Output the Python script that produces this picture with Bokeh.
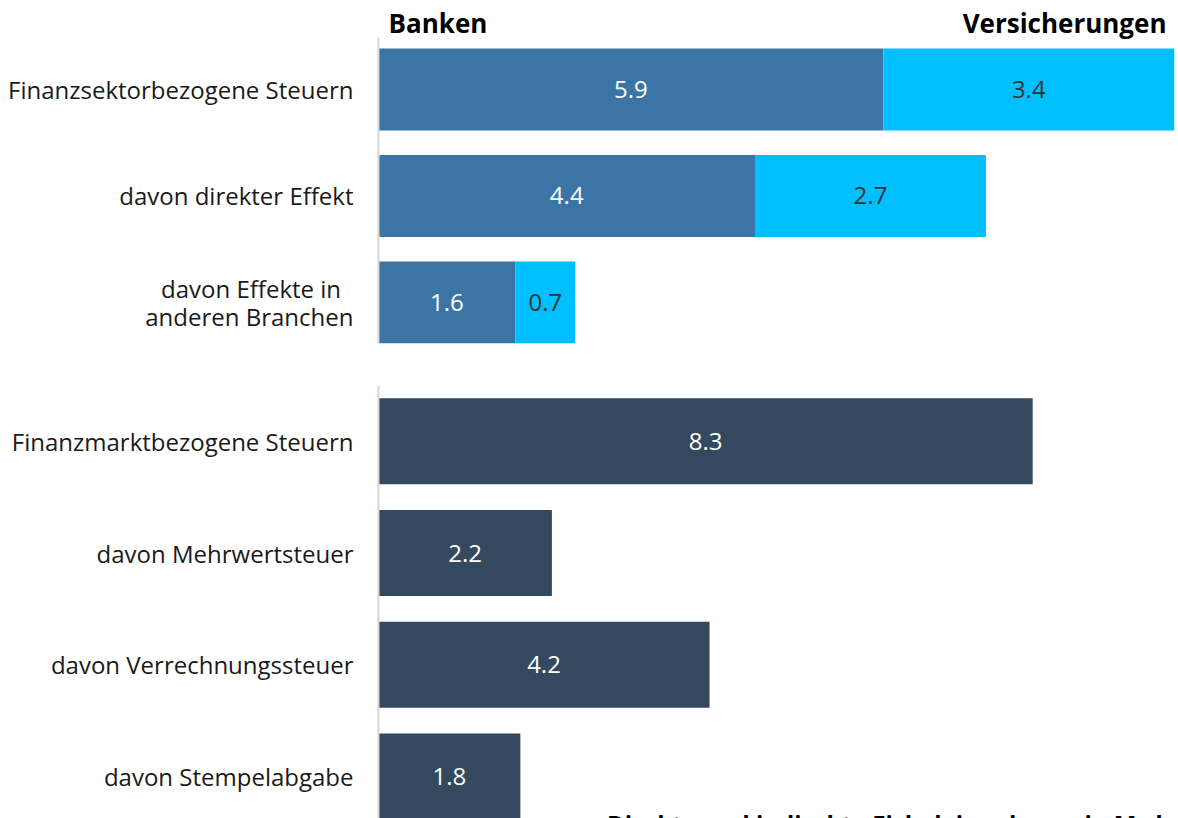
from bokeh.plotting import figure
from bokeh.models import ColumnDataSource, Range1d, FixedTicker
from bokeh.layouts import column
from bokeh.embed import file_html
from bokeh.resources import INLINE
from bokeh.core.properties import value

# ---------------- data ----------------
sector_categories = ["Finanzsektorbezogene Steuern", "davon direkter Effekt",
                     "davon Effekte in  \nanderen Branchen"]
banken = [5.9, 4.4, 1.6]
versicherungen = [3.4, 2.7, 0.7]
series_names = ["Banken", "Versicherungen"]

market_categories = ["Finanzmarktbezogene Steuern", "davon Mehrwertsteuer",
                     "davon Verrechnungssteuer", "davon Stempelabgabe"]
markt = [8.3, 2.2, 4.2, 1.8]

footer_note = "Direkte und indirekte Fiskaleinnahmen in Mrd. CHF"

# ---------------- style ----------------
FONT = "Open Sans"
C_BANK = "#3a75a6"
C_VERS = "#00bfff"
C_MARKT = "#34495e"
BAR_H = 0.77
W = 1178
LEFT = 378


def style_axes(p, ticks, labels, bounds):
    p.xgrid.visible = False
    p.ygrid.visible = False
    p.outline_line_color = None
    ax = p.yaxis[0]
    ax.ticker = FixedTicker(ticks=ticks)
    ax.major_label_overrides = {t: l for t, l in zip(ticks, labels)}
    ax.major_tick_line_color = None
    ax.minor_tick_line_color = None
    ax.axis_line_color = "#d6d6d6"
    ax.axis_line_width = 2
    ax.bounds = bounds
    ax.major_label_text_font = FONT
    ax.major_label_text_font_size = "24px"
    ax.major_label_text_color = "#1a1a1a"
    ax.major_label_text_line_height = 0.87
    ax.major_label_standoff = 19


# ---------------- top chart ----------------
n_top = len(sector_categories)
y_top = [n_top - 1 - i for i in range(n_top)]
totals = [b + v for b, v in zip(banken, versicherungen)]
src_top = ColumnDataSource(dict(
    y=y_top, b=banken, v=versicherungen, total=totals,
    b_mid=[b / 2 for b in banken],
    v_mid=[b + v / 2 for b, v in zip(banken, versicherungen)],
    b_lbl=[f"{b:.1f}" for b in banken],
    v_lbl=[f"{v:.1f}" for v in versicherungen],
))

top_x_end = 9.35
top_axis_end = n_top - 1 + 0.49
p1 = figure(width=W, height=364, x_range=Range1d(0, top_x_end),
            y_range=Range1d(-BAR_H / 2, -BAR_H / 2 + 343 / 106.5),
            output_backend="svg", toolbar_location=None, x_axis_location=None,
            min_border_left=LEFT, min_border_right=0, min_border_top=0,
            min_border_bottom=21)
p1.hbar(y="y", left=0, right="b", height=BAR_H, source=src_top,
        fill_color=C_BANK, line_color=None)
p1.hbar(y="y", left="b", right="total", height=BAR_H, source=src_top,
        fill_color=C_VERS, line_color=None)
p1.text(x="b_mid", y="y", text="b_lbl", source=src_top, text_align="center",
        text_baseline="middle", text_color="white", text_font=value(FONT),
        text_font_size="24px")
p1.text(x="v_mid", y="y", text="v_lbl", source=src_top, text_align="center",
        text_baseline="middle", text_color="#333333", text_font=value(FONT),
        text_font_size="24px")
style_axes(p1, y_top, sector_categories, (-BAR_H / 2, top_axis_end))

# series headings above the bars
p1.text(x=[0], y=[top_axis_end], text=[series_names[0]], x_offset=10,
        y_offset=-14, text_align="left", text_baseline="alphabetic",
        text_color="black", text_font=value(FONT), text_font_size="26px",
        text_font_style="bold")
p1.text(x=[top_x_end], y=[top_axis_end], text=[series_names[1]],
        x_offset=-12, y_offset=-14, text_align="right",
        text_baseline="alphabetic", text_color="black",
        text_font=value(FONT), text_font_size="26px", text_font_style="bold")

# ---------------- bottom chart ----------------
n_bot = len(market_categories)
y_bot = [n_bot - 1 - i for i in range(n_bot)]
src_bot = ColumnDataSource(dict(
    y=y_bot, m=markt, m_mid=[m / 2 for m in markt],
    m_lbl=[f"{m:.1f}" for m in markt],
))

p2 = figure(width=W, height=454, x_range=Range1d(0, 10.15),
            y_range=Range1d(-0.376, n_bot - 1 + 0.5),
            output_backend="svg", toolbar_location=None, x_axis_location=None,
            min_border_left=LEFT, min_border_right=0, min_border_top=21,
            min_border_bottom=0)
p2.hbar(y="y", left=0, right="m", height=BAR_H, source=src_bot,
        fill_color=C_MARKT, line_color=None)
p2.text(x="m_mid", y="y", text="m_lbl", source=src_bot, text_align="center",
        text_baseline="middle", text_color="white", text_font=value(FONT),
        text_font_size="24px")
# axis title of the original, cut off at the lower edge of the picture
p2.text(x=[2.9], y=[-0.42], text=[footer_note], text_align="left",
        text_baseline="alphabetic", text_color="black", text_font=value(FONT),
        text_font_size="24px", text_font_style="bold")
style_axes(p2, y_bot, market_categories, (-0.376, n_bot - 1 + 0.5))

layout = column(p1, p2, spacing=0)
open("out.html", "w").write(file_html(layout, INLINE))
